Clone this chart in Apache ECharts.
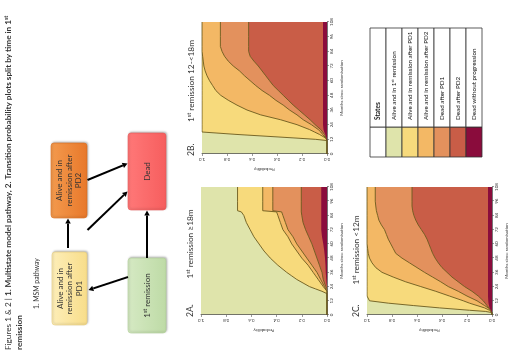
<!DOCTYPE html>
<html><head><meta charset="utf-8">
<script src="https://cdn.jsdelivr.net/npm/echarts@6.0.0/dist/echarts.min.js"></script>
<style>
html,body{margin:0;padding:0;background:#fff;overflow:hidden;width:520px;height:353px;}
#wrap{position:absolute;left:0;top:0;width:353px;height:520px;transform-origin:0 0;transform:translate(0,353px) rotate(-90deg);}
#chart{width:353px;height:520px;}
</style></head><body>
<div id="wrap"><div id="chart"></div></div>
<script>
// ---- data: cumulative upper boundary of each state band (probability) ----
const monthTicks = [0, 12, 24, 36, 48, 60, 72, 84, 96, 108];
const stateNames = ['Alive and in 1st remission', 'Alive and in remission after PD1', 'Alive and in remission after PD2', 'Dead after PD1', 'Dead after PD2', 'Dead without progression'];

// 2A: 1st remission >=18m
const monthsA = [0, 18, 20, 22, 24, 27, 30, 33, 36, 42, 48, 54, 60, 66, 72, 78, 84, 87, 88, 96, 108];
const A_pd1  = [0, 0, 0.04, 0.09, 0.14, 0.19, 0.24, 0.28, 0.32, 0.39, 0.45, 0.50, 0.54, 0.58, 0.61, 0.64, 0.66, 0.68, 0.71, 0.71, 0.71];
const A_pd2  = [0, 0, 0, 0.015, 0.03, 0.05, 0.07, 0.09, 0.11, 0.15, 0.20, 0.24, 0.28, 0.31, 0.35, 0.37, 0.39, 0.40, 0.51, 0.51, 0.51];
const A_dpd1 = [0, 0, 0, 0.01, 0.02, 0.035, 0.05, 0.065, 0.08, 0.12, 0.16, 0.20, 0.24, 0.27, 0.31, 0.33, 0.35, 0.36, 0.43, 0.43, 0.43];
const A_dpd2 = [0, 0, 0, 0, 0.01, 0.02, 0.03, 0.035, 0.04, 0.06, 0.08, 0.10, 0.12, 0.145, 0.17, 0.19, 0.20, 0.204, 0.204, 0.204, 0.204];
const A_dnp  = [0, 0, 0, 0, 0, 0.003, 0.005, 0.008, 0.01, 0.012, 0.015, 0.022, 0.03, 0.04, 0.045, 0.045, 0.045, 0.045, 0.045, 0.045, 0.045];

// 2B: 1st remission 12-<18m
const monthsB = [0, 11, 12, 13, 14, 16, 18, 20, 24, 28, 32, 36, 40, 44, 48, 52, 56, 60, 64, 68, 72, 76, 80, 84, 88, 96, 108];
const B_pd1  = [0, 0, 0.09, 0.24, 0.40, 0.72, 1, 1, 1, 1, 1, 1, 1, 1, 1, 1, 1, 1, 1, 1, 1, 1, 1, 1, 1, 1, 1];
const B_pd2  = [0, 0, 0, 0.01, 0.025, 0.06, 0.10, 0.14, 0.24, 0.37, 0.53, 0.64, 0.72, 0.79, 0.85, 0.89, 0.915, 0.94, 0.96, 0.975, 0.985, 0.99, 0.995, 1, 1, 1, 1];
const B_dpd1 = [0, 0, 0, 0.008, 0.015, 0.035, 0.05, 0.07, 0.125, 0.19, 0.24, 0.30, 0.35, 0.41, 0.46, 0.52, 0.57, 0.615, 0.66, 0.70, 0.75, 0.79, 0.82, 0.84, 0.853, 0.853, 0.853];
const B_dpd2 = [0, 0, 0, 0.005, 0.01, 0.02, 0.035, 0.05, 0.095, 0.135, 0.18, 0.225, 0.27, 0.31, 0.35, 0.39, 0.43, 0.46, 0.49, 0.52, 0.55, 0.585, 0.615, 0.627, 0.627, 0.627, 0.627];
const B_dnp  = [0, 0, 0, 0.004, 0.008, 0.015, 0.022, 0.028, 0.032, 0.032, 0.032, 0.032, 0.032, 0.032, 0.032, 0.032, 0.032, 0.032, 0.032, 0.032, 0.032, 0.032, 0.032, 0.032, 0.032, 0.032, 0.032];

// 2C: 1st remission <12m
const monthsC = [0, 2, 3, 4, 6, 8, 10, 12, 16, 20, 24, 28, 32, 36, 40, 44, 48, 52, 56, 60, 64, 68, 72, 76, 80, 84, 88, 92, 96, 108];
const C_pd1  = [0, 0, 0.05, 0.18, 0.42, 0.63, 0.83, 0.98, 1, 1, 1, 1, 1, 1, 1, 1, 1, 1, 1, 1, 1, 1, 1, 1, 1, 1, 1, 1, 1, 1];
const C_pd2  = [0, 0, 0.005, 0.02, 0.06, 0.12, 0.18, 0.23, 0.34, 0.45, 0.57, 0.69, 0.79, 0.88, 0.93, 0.96, 0.98, 0.99, 0.995, 1, 1, 1, 1, 1, 1, 1, 1, 1, 1, 1];
const C_dpd1 = [0, 0, 0.004, 0.01, 0.03, 0.06, 0.09, 0.12, 0.20, 0.27, 0.35, 0.41, 0.475, 0.54, 0.60, 0.66, 0.72, 0.77, 0.79, 0.81, 0.83, 0.845, 0.86, 0.885, 0.905, 0.915, 0.925, 0.93, 0.934, 0.934];
const C_dpd2 = [0, 0, 0.003, 0.01, 0.025, 0.04, 0.055, 0.07, 0.11, 0.16, 0.22, 0.27, 0.32, 0.36, 0.40, 0.43, 0.455, 0.475, 0.49, 0.505, 0.52, 0.54, 0.565, 0.59, 0.61, 0.625, 0.635, 0.64, 0.64, 0.64];
const C_dnp  = [0, 0, 0.002, 0.008, 0.02, 0.025, 0.028, 0.03, 0.032, 0.032, 0.032, 0.032, 0.032, 0.032, 0.032, 0.032, 0.032, 0.032, 0.032, 0.032, 0.032, 0.032, 0.032, 0.032, 0.032, 0.032, 0.032, 0.032, 0.032, 0.032];

// ---- styling ----
const COL = ['#dfe4ab', '#f7da7c', '#f3b865', '#e3915d', '#c95d47', '#8a0c3c'];
const LINE = '#6b5a1e';
const FONT = 'Lato';

const panels = [
  {label: '2A.', title: '≥18m', months: monthsA, bands: [A_pd1, A_pd2, A_dpd1, A_dpd2, A_dnp],
   grid: {left: 38, top: 201, width: 128, height: 126}, lab: [36, 190], tit: [109, 190]},
  {label: '2B.', title: '12-<18m', months: monthsB, bands: [B_pd1, B_pd2, B_dpd1, B_dpd2, B_dnp],
   grid: {left: 199, top: 202, width: 132, height: 125}, lab: [197, 191], tit: [272, 191]},
  {label: '2C.', title: '<12m', months: monthsC, bands: [C_pd1, C_pd2, C_dpd1, C_dpd2, C_dnp],
   grid: {left: 38, top: 367, width: 128, height: 125}, lab: [36, 356], tit: [103, 356]}
];

const grids = [], xAxes = [], yAxes = [], series = [], graphic = [];
panels.forEach((p, i) => {
  grids.push(Object.assign({show: true, backgroundColor: COL[0], borderWidth: 0}, p.grid));
  xAxes.push({type: 'value', gridIndex: i, min: 0, max: 108, interval: 12,
    axisLine: {show: true, onZero: false, lineStyle: {color: '#555', width: 0.8}},
    axisTick: {show: true, length: 2, lineStyle: {color: '#555', width: 0.6}},
    axisLabel: {fontSize: 4.5, margin: 2.5, color: '#333', fontFamily: FONT},
    splitLine: {show: false},
    name: 'Months since randomisation', nameLocation: 'middle', nameGap: 12,
    nameTextStyle: {fontSize: 4.5, color: '#333', fontFamily: FONT}});
  yAxes.push({type: 'value', gridIndex: i, min: 0, max: 1, interval: 0.2,
    axisLine: {show: true, lineStyle: {color: '#555', width: 0.8}},
    axisTick: {show: true, length: 2, lineStyle: {color: '#555', width: 0.6}},
    axisLabel: {fontSize: 4.5, margin: 2.5, rotate: 90, color: '#333', fontFamily: FONT,
      formatter: v => v.toFixed(1)},
    splitLine: {show: false},
    name: 'Probability', nameLocation: 'middle', nameGap: 13, nameRotate: 90,
    nameTextStyle: {fontSize: 4.5, color: '#333', fontFamily: FONT}});
  p.bands.forEach((vals, k) => {
    series.push({type: 'line', xAxisIndex: i, yAxisIndex: i, symbol: 'none', silent: true,
      animation: false, z: 2 + k,
      data: p.months.map((m, j) => [m, vals[j]]),
      lineStyle: {color: LINE, width: k === 4 ? 0 : 0.9},
      areaStyle: {color: COL[k + 1], opacity: 1}});
  });
  graphic.push({type: 'text', x: p.lab[0], y: p.lab[1], 
    style: {text: p.label, fontSize: 8.5, fontFamily: FONT, fill: '#333', verticalAlign: 'middle'}});
  graphic.push({type: 'text', x: p.tit[0], y: p.tit[1],
    style: {text: '{a|1}{s|st}{a| remission ' + p.title + '}', align: 'center', verticalAlign: 'middle',
      rich: {a: {fontSize: 8.3, fontFamily: FONT, fill: '#333'}, s: {fontSize: 5.5, fontFamily: FONT, fill: '#333', padding: [0, 0, 4, 0]}}}});
});

// ---- title ----
graphic.push({type: 'text', x: 3, y: 3, style: {
  text: '{n|Figures 1 & 2 | }{b|1. Multistate model pathway, 2. Transition probability plots split by time in 1}{s|st}',
  rich: {n: {fontSize: 8.2, fontFamily: FONT, fill: '#333'},
         b: {fontSize: 8.2, fontFamily: FONT, fontWeight: 'bold', fill: '#333'},
         s: {fontSize: 5.5, fontFamily: FONT, fontWeight: 'bold', fill: '#333', padding: [0, 0, 4, 0]}}}});
graphic.push({type: 'text', x: 3, y: 15, style: {text: 'remission', fontSize: 8.2, fontFamily: FONT, fontWeight: 'bold', fill: '#333'}});
graphic.push({type: 'text', x: 44, y: 33, style: {text: '1. MSM pathway', fontSize: 6.8, fontFamily: FONT, fill: '#333'}});

// ---- flow chart ----
function grad(c1, c2) {
  return new echarts.graphic.LinearGradient(0, 0, 0, 1, [{offset: 0, color: c1}, {offset: 1, color: c2}]);
}
const boxes = [
  {x: 28, y: 52, w: 73, h: 35, f: grad('#fdeeb8', '#f8dd8a'), s: '#e8cf80', t: 'Alive and in\nremission after\nPD1'},
  {x: 135, y: 51, w: 75, h: 36, f: grad('#f39a4e', '#e8782a'), s: '#d97024', t: 'Alive and in\nremission after\nPD2'},
  {x: 143, y: 128, w: 77, h: 38, f: grad('#ff7878', '#f65e5e'), s: '#e75a5a', t: 'Dead'},
  {x: 20, y: 128, w: 75, h: 38, f: grad('#d5e9c3', '#bedba6'), s: '#b3d19a', t: null}
];
boxes.forEach(b => {
  graphic.push({type: 'rect', shape: {x: b.x, y: b.y, width: b.w, height: b.h, r: 3},
    style: {fill: b.f, stroke: b.s, lineWidth: 0.6, shadowBlur: 2, shadowColor: 'rgba(0,0,0,0.25)', shadowOffsetX: 1, shadowOffsetY: 1}});
  graphic.push({type: 'text', x: b.x + b.w / 2, y: b.y + b.h / 2,
    style: b.t ? {text: b.t, fontSize: 8, lineHeight: 9.5, fontFamily: FONT, fill: '#333', align: 'center', verticalAlign: 'middle'}
      : {text: '{a|1}{s|st}{a| remission}', align: 'center', verticalAlign: 'middle',
         rich: {a: {fontSize: 8, fontFamily: FONT, fill: '#333'}, s: {fontSize: 5.5, fontFamily: FONT, fill: '#333', padding: [0, 0, 4, 0]}}}});
});
const arrows = [[76, 128, 63, 88.5], [105, 68, 134.5, 68], [123, 87.5, 161.5, 127.5], [173, 87.5, 189.5, 127.5], [95, 147, 142.5, 147]];
arrows.forEach(a => {
  const [x1, y1, x2, y2] = a;
  const dx = x2 - x1, dy = y2 - y1, L = Math.hypot(dx, dy), ux = dx / L, uy = dy / L;
  const hl = 5, hw = 2.8;
  const bx = x2 - ux * hl, by = y2 - uy * hl;
  graphic.push({type: 'line', shape: {x1, y1, x2: bx, y2: by}, style: {stroke: '#000', lineWidth: 2}});
  graphic.push({type: 'polygon', shape: {points: [[x2, y2], [bx - uy * hw, by + ux * hw], [bx + uy * hw, by - ux * hw]]}, style: {fill: '#000'}});
});

// ---- legend table ----
const tX = 196, tW1 = 30, tW2 = 99, tY = 370, rH = 16;
for (let r = 0; r < 7; r++) {
  const y = tY + r * rH;
  graphic.push({type: 'rect', shape: {x: tX, y, width: tW1, height: rH},
    style: {fill: r === 0 ? '#fff' : COL[r - 1], stroke: '#333', lineWidth: 0.8}});
  graphic.push({type: 'rect', shape: {x: tX + tW1, y, width: tW2, height: rH},
    style: {fill: '#fff', stroke: '#333', lineWidth: 0.8}});
  let st;
  if (r === 0) st = {text: 'States', fontSize: 6.5, fontWeight: 'bold', fontFamily: FONT, fill: '#222'};
  else if (r === 1) st = {text: '{a|Alive and in 1}{s|st}{a| remission}',
    rich: {a: {fontSize: 6.3, fontFamily: FONT, fill: '#222'}, s: {fontSize: 4.3, fontFamily: FONT, fill: '#222', padding: [0, 0, 3, 0]}}};
  else st = {text: stateNames[r - 1], fontSize: 6.3, fontFamily: FONT, fill: '#222'};
  st.verticalAlign = 'middle';
  graphic.push({type: 'text', x: tX + tW1 + 7, y: y + rH / 2, style: st});
}

const chart = echarts.init(document.getElementById('chart'), null, {renderer: 'canvas'});
chart.setOption({animation: false, backgroundColor: '#fff', grid: grids, xAxis: xAxes, yAxis: yAxes, series, graphic});
</script></body></html>
